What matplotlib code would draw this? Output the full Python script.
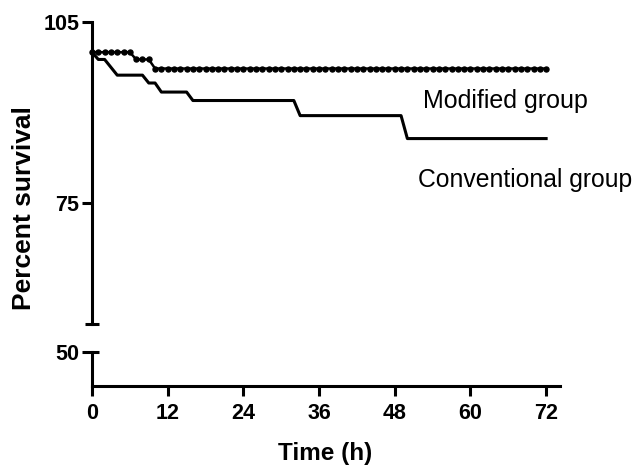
import matplotlib
matplotlib.use('Agg')
import matplotlib.pyplot as plt

plt.rcParams['font.family'] = ['Liberation Sans', 'DejaVu Sans']

# Conventional group: (time, percent) where the curve changes
conv_hours = [0, 1, 2, 4, 8, 9, 10, 11, 15, 16, 32, 33, 49, 50, 72]
conv_pct = [100.0, 98.8, 98.8, 96.2, 96.2, 94.9, 94.9, 93.4, 93.4, 92.0,
            92.0, 89.5, 89.5, 85.7, 85.7]

# Modified group: value at every hour (0..72)
mod_hours = list(range(73))
mod_pct = [100.0] * 7 + [98.8] * 3 + [97.3] * 63

x_ticks = [0, 12, 24, 36, 48, 60, 72]
top_yticks = [75, 105]
bottom_yticks = [50]

W, H = 638, 468
fig = plt.figure(figsize=(W / 100, H / 100), dpi=100)

left = 92 / W
width = (560 - 92) / W
ax_top = fig.add_axes([left, 1 - 324 / H, width, (324 - 22) / H])
ax_bot = fig.add_axes([left, 1 - 386 / H, width, (386 - 352) / H])

lw = 2.2
for ax in (ax_top, ax_bot):
    ax.set_xlim(0, 74.2)
    ax.spines['top'].set_visible(False)
    ax.spines['right'].set_visible(False)
    ax.spines['left'].set_linewidth(lw)
    ax.spines['bottom'].set_linewidth(lw)
    ax.patch.set_alpha(0)
    ax.tick_params(width=lw, length=7.5, labelsize=15.5)

ax_top.set_ylim(55, 105)
ax_top.spines['bottom'].set_visible(False)
ax_top.set_xticks([])
ax_top.set_yticks(top_yticks)
ax_top.tick_params(axis='y', pad=1.5)

ax_bot.set_ylim(44.35, 50)
ax_bot.set_yticks(bottom_yticks)
ax_bot.set_xticks(x_ticks)
ax_bot.tick_params(axis='y', pad=1.5)
ax_bot.tick_params(axis='x', pad=4.5)

for ax in (ax_top, ax_bot):
    for t in ax.get_xticklabels() + ax.get_yticklabels():
        t.set_fontweight('bold')

# break caps on the y axis
cap = 7 / (560 - 92)
ax_top.plot([-cap, cap], [55, 55], color='black', lw=lw,
            transform=ax_top.get_yaxis_transform(), clip_on=False,
            solid_capstyle='butt')
ax_bot.plot([0, cap], [50, 50], color='black', lw=lw,
            transform=ax_bot.get_yaxis_transform(), clip_on=False,
            solid_capstyle='butt')

ax_top.plot(conv_hours, conv_pct, color='black', lw=2.2, clip_on=False)
ax_top.plot(mod_hours, mod_pct, color='black', lw=1.8, marker='o',
            markersize=3.6, clip_on=False)

ax_top.text(52.5, 90.75, 'Modified group', fontsize=18, ha='left',
            va='baseline')
ax_top.text(51.7, 77.7, 'Conventional group', fontsize=17.8, ha='left',
            va='baseline')

fig.text(24 / W, 1 - 208 / H, 'Percent survival', rotation=90,
         fontsize=19, fontweight='bold', ha='center', va='center')
fig.text(325 / W, 1 - 460 / H, 'Time (h)', fontsize=17.5,
         fontweight='bold', ha='center', va='baseline')

fig.savefig('out.png', dpi=100)
